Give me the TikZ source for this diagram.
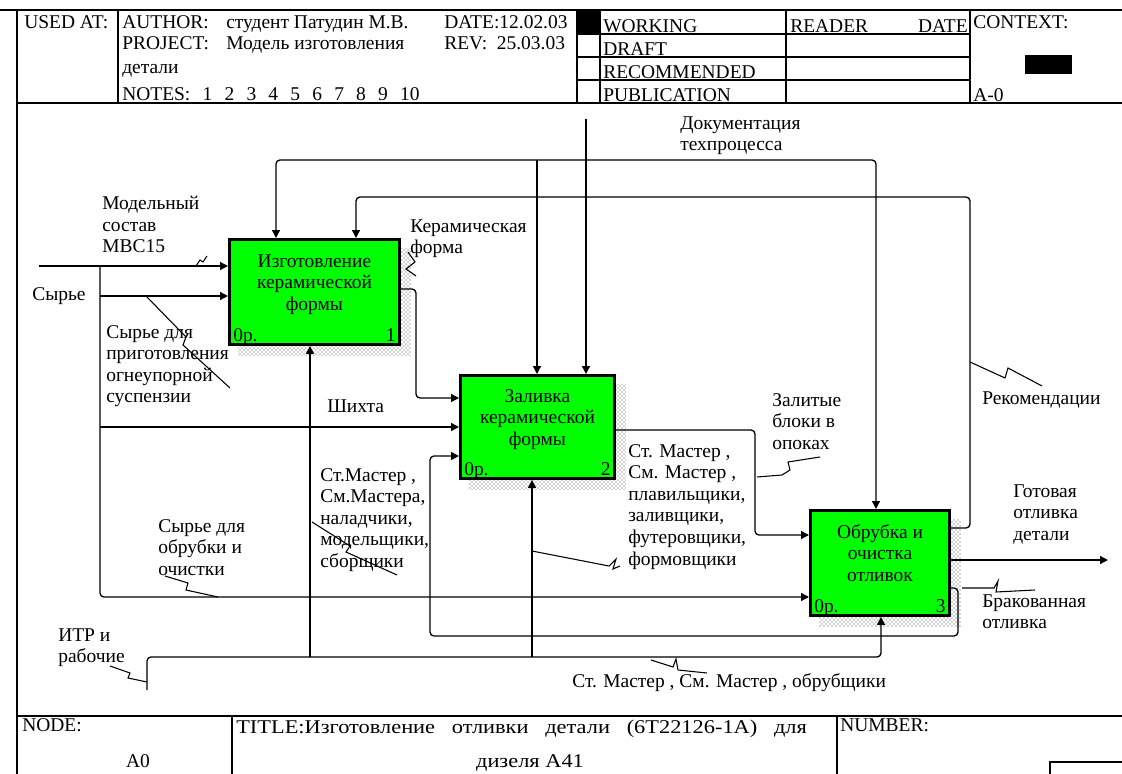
\documentclass[tikz,border=0pt]{standalone}
\usepackage{fontspec}
\setmainfont{Liberation Serif}
\newfontface\titlefont{Liberation Serif}[FakeStretch=1.15]
\usetikzlibrary{arrows.meta,patterns,backgrounds,calc}
\definecolor{boxgreen}{RGB}{0,255,0}
\newcommand{\dfont}{\fontsize{14.6}{16.2}\selectfont}
\begin{document}
\begin{tikzpicture}[x=0.75pt,y=-0.75pt,
  box/.style={draw, line width=2.2pt, fill=boxgreen, inner sep=0, anchor=north west},
  btxt/.style={font=\dfont, inner sep=0, align=center, anchor=north},
  num/.style={font=\dfont, inner sep=0},
  lbl/.style={font=\dfont, inner sep=0, align=left, anchor=north west},
  htxt/.style={font=\dfont, inner sep=0, anchor=base west},
  flow/.style={line width=1pt, rounded corners=3pt, -{Triangle[length=6pt,width=6pt]}},
  plain/.style={line width=1pt, rounded corners=3pt},
  leader/.style={line width=0.8pt},
  frame/.style={line width=1.1pt}]
\useasboundingbox (0,0) rectangle (1122,774);

% ---------- frame ----------
\draw[line width=2pt] (0,10) -- (1122,10);
\draw[frame] (17,10) -- (17,774);
\draw[frame] (17,103) -- (1122,103);
\draw[frame] (118,10) -- (118,103);
\draw[frame] (577,10) -- (577,103);
\draw[frame] (600,10) -- (600,103);
\draw[frame] (786,10) -- (786,103);
\draw[frame] (970,10) -- (970,103);
\draw[frame] (577,34) -- (970,34);
\draw[frame] (577,57) -- (970,57);
\draw[frame] (577,80) -- (970,80);
\fill (577,10) rectangle (600,34);
\fill (1025,55) rectangle (1072,74);
\draw[frame] (17,716) -- (1122,716);
\draw[frame] (232,716) -- (232,774);
\draw[frame] (837,716) -- (837,774);
\draw[frame] (1050,774) -- (1050,762) -- (1122,762);

% ---------- header text ----------
\node[htxt] (usedat) at (24,29) {USED AT:};
\node[htxt] (author) at (122,29) {\makebox[78pt][l]{AUTHOR:}студент Патудин М.В.};
\node[htxt] (date) at (444,29) {DATE:12.02.03};
\node[htxt] (project) at (122,50) {\makebox[78pt][l]{PROJECT:}Модель изготовления};
\node[htxt] (rev) at (444,50) {REV:\ \ 25.03.03};
\node[htxt] (proj2) at (122,74) {детали};
\node[htxt] (notes) at (122,101) {\makebox[223pt][s]{NOTES: 1 2 3 4 5 6 7 8 9 10}};
\node[htxt] (working) at (603,33) {WORKING};
\node[htxt] (draft) at (603,56) {DRAFT};
\node[htxt] (recom) at (603,79) {RECOMMENDED};
\node[htxt] (publ) at (603,102) {PUBLICATION};
\node[htxt] (reader) at (790,33) {READER};
\node[font=\dfont, inner sep=0, anchor=base east] (rdate) at (968,33) {DATE};
\node[htxt] (context) at (973,29) {CONTEXT:};
\node[htxt] (ctxnode) at (973,102) {A-0};

% ---------- footer text ----------
\node[htxt] (nodel) at (22,731) {NODE:};
\node[font=\dfont, inner sep=0, anchor=base] (nodev) at (138,767) {A0};
\node[htxt] (title) at (236,733) {\titlefont\fontsize{14.6}{16.2}\selectfont\makebox[428pt][s]{TITLE:Изготовление отливки детали (6Т22126-1А) для}};
\node[font=\titlefont\fontsize{14.6}{16.2}\selectfont, inner sep=0, anchor=base] (title2) at (530,767) {дизеля А41};
\node[htxt] (number) at (840,731) {NUMBER:};

% ---------- boxes ----------
\node[box, minimum width=127.5pt, minimum height=78.75pt] (b1) at (228,238) {};
\node[box, minimum width=115.5pt, minimum height=77.25pt] (b2) at (459,374) {};
\node[box, minimum width=104.25pt, minimum height=78.75pt] (b3) at (809,509) {};
\begin{scope}[on background layer]
  \foreach \b in {b1,b2,b3}
    \fill[pattern=crosshatch dots, pattern color=black!75]
      ($(\b.north west)+(10,10)$) rectangle ($(\b.south east)+(10,10)$);
\end{scope}
\node[btxt] (b1t) at ($(b1.north)+(0,16)$) {Изготовление\\керамической\\формы};
\node[btxt] (b2t) at ($(b2.north)+(0,15)$) {Заливка\\керамической\\формы};
\node[btxt] (b3t) at ($(b3.north)+(0,15)$) {Обрубка и\\очистка\\отливок};
\node[num, anchor=base west] (b1o) at ($(b1.south west)+(5,-4)$) {0р.};
\node[num, anchor=base east] (b1n) at ($(b1.south east)+(-5,-4)$) {1};
\node[num, anchor=base west] (b2o) at ($(b2.south west)+(5,-4)$) {0р.};
\node[num, anchor=base east] (b2n) at ($(b2.south east)+(-5,-4)$) {2};
\node[num, anchor=base west] (b3o) at ($(b3.south west)+(5,-4)$) {0р.};
\node[num, anchor=base east] (b3n) at ($(b3.south east)+(-5,-4)$) {3};

% ---------- coordinates ----------
\coordinate (docsrc) at (586,119);
\coordinate (docj) at (586,160);
\coordinate (docjl) at (537,160);
\coordinate (recc) at (970,197);
\coordinate (outend) at (1108,560);
\coordinate (rej1) at (958,588);
\coordinate (rejb) at (430,636);
\coordinate (zal) at (755,430);
\coordinate (ker) at (416,289);
\coordinate (modsrc) at (39,266);
\coordinate (rawj) at (100,266);
\coordinate (raw1) at (100,296);
\coordinate (raw2) at (100,427);
\coordinate (itrsrc) at (147,690);
\coordinate (itrc) at (881,657);
\coordinate (m1) at (310,657);
\coordinate (m2) at (532,657);

% ---------- controls ----------
\draw[flow] (docsrc) -- (docsrc |- b2.north);
\draw[flow] (docj) -| ($(b1.north west)+(48,0)$);
\draw[flow] (docjl) -- (docjl |- b2.north);
\draw[flow] (docj) -| ($(b3.north west)+(67,0)$);
\draw[flow] ($(b3.north east)+(0,19)$) -| (recc) -| ($(b1.north west)+(128,0)$);

% ---------- outputs ----------
\draw[flow] (b3.east |- outend) -- (outend);
\draw[flow] (b3.east |- rej1) -- (rej1) |- (rejb) |- ($(b2.north west)+(0,82)$);
\draw[flow] (b2.east |- zal) -- (zal) |- ($(b3.north west)+(0,26)$);
\draw[flow] (b1.east |- ker) -- (ker) |- ($(b2.north west)+(0,24)$);

% ---------- inputs ----------
\draw[flow] (modsrc) -- (modsrc -| b1.west);
\draw[flow] (rawj) |- ($(b3.north west)+(0,88)$);
\draw[flow] (raw1) -- (raw1 -| b1.west);
\draw[flow] (raw2) -- (raw2 -| b2.west);

% ---------- mechanisms ----------
\draw[flow] (itrsrc) |- (itrc) -- (itrc |- b3.south);
\draw[flow] (m1) -- (m1 |- b1.south);
\draw[flow] (m2) -- (m2 |- b2.south);

% ---------- labels ----------
\node[lbl] (lmod) at (102,196) {Модельный\\состав\\МВС15};
\node[lbl] (lraw) at (32,287) {Сырье};
\node[lbl] (lraw1) at (106,325) {Сырье для\\приготовления\\огнеупорной\\суспензии};
\node[lbl] (lker) at (410,219) {Керамическая\\форма};
\node[lbl] (ldoc) at (680,116) {Документация\\техпроцесса};
\node[lbl] (lsh) at (327,399) {Шихта};
\node[lbl] (lm1) at (320,468) {Ст.Мастер ,\\См.Мастера,\\наладчики,\\модельщики,\\сборщики};
\node[lbl] (lraw3) at (158,519) {Сырье для\\обрубки и\\очистки};
\node[lbl] (litr) at (58,628) {ИТР и\\рабочие};
\node[lbl] (lm2) at (628,444) {Ст. Мастер ,\\См. Мастер ,\\плавильщики,\\заливщики,\\футеровщики,\\формовщики};
\node[lbl] (lzal) at (772,393) {Залитые\\блоки в\\опоках};
\node[lbl] (lrec) at (982,391) {Рекомендации};
\node[lbl] (lgot) at (1013,484) {Готовая\\отливка\\детали};
\node[lbl] (lbrak) at (982,594) {Бракованная\\отливка};
\node[lbl] (lm3) at (572,673) {Ст. Мастер , См. Мастер , обрубщики};

% ---------- leaders ----------
\draw[leader] (196,266) -- (200,260) -- (203,262) -- (207,256);
\draw[leader] (147,297) -- (186,337) -- (183,345) -- (230,388);
\draw[leader] (408,252) -- (415,262) -- (406,269) -- (416,276);
\draw[leader] (312,522) -- (350,546) -- (346,552) -- (397,575);
\draw[leader] (165,576) -- (188,583) -- (186,590) -- (218,597);
\draw[leader] (110,666) -- (130,673) -- (128,678) -- (147,682);
\draw[leader] (532,551) -- (609,566) -- (616,559) -- (613,569) -- (620,566);
\draw[leader] (757,477) -- (782,475) -- (790,470) -- (788,462) -- (820,457);
\draw[leader] (970,362) -- (1005,378) -- (1008,368) -- (1042,386);
\draw[leader] (962,588) -- (994,588) -- (998,581) -- (996,592) -- (1035,590);
\draw[leader] (651,660) -- (673,667) -- (676,659) -- (678,670) -- (707,673);
\end{tikzpicture}
\end{document}
